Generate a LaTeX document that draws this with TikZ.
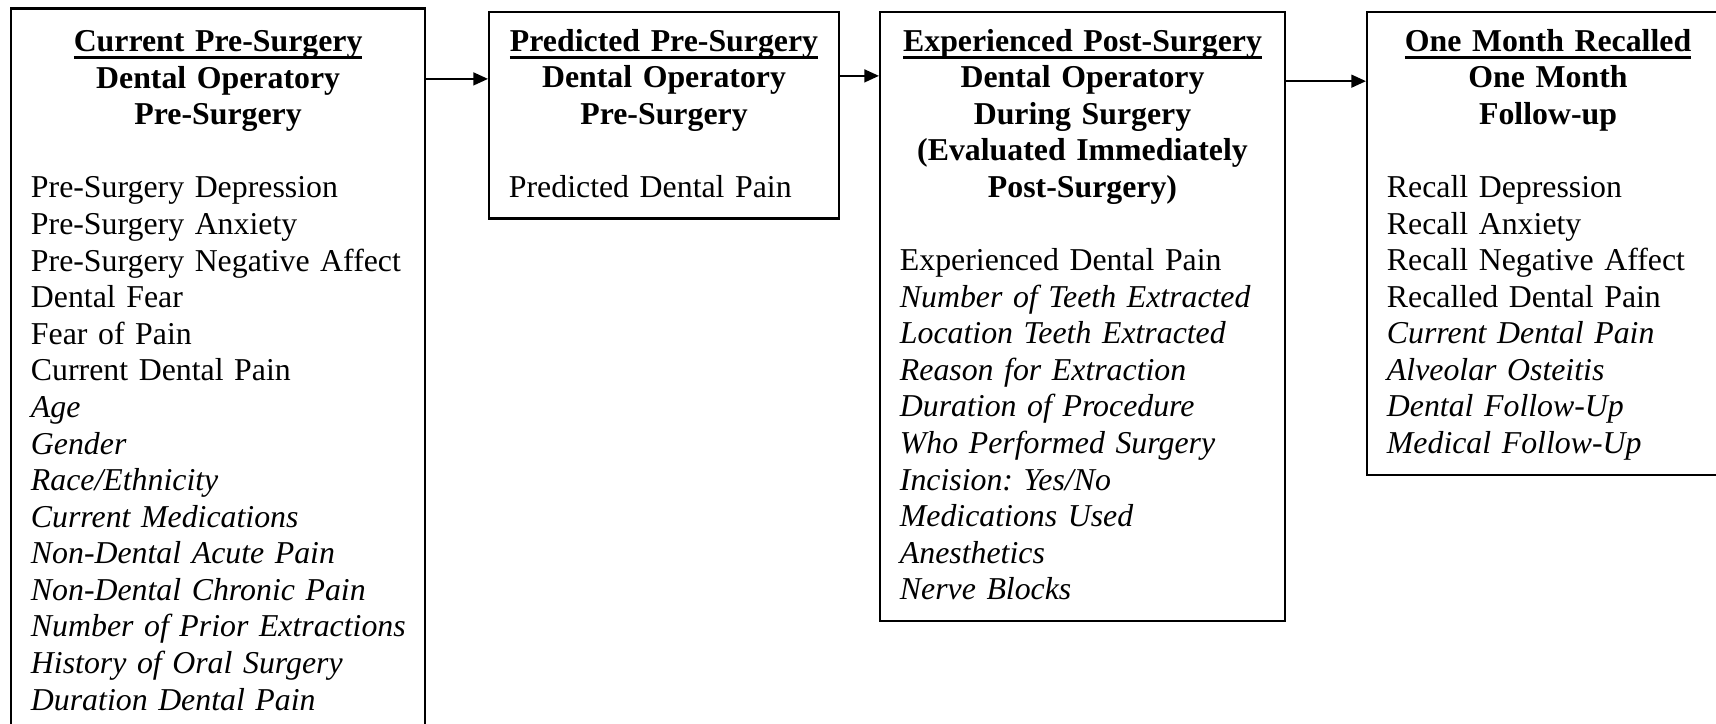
\documentclass[tikz,border=0pt]{standalone}
\usepackage{fontspec}
\setmainfont{Liberation Serif}
\usetikzlibrary{arrows.meta}
\setlength{\parindent}{0pt}
\frenchspacing

\newsavebox{\ttlbox}
\newcommand{\ttl}[1]{\sbox{\ttlbox}{#1}\rlap{\rule[-2.9pt]{\wd\ttlbox}{1.1pt}}\usebox{\ttlbox}}
\newcommand{\phasehead}[2]{{\centering\bfseries\rule{0pt}{10.9pt}\ttl{#1}\\#2\par}\vspace{13.8pt}}

\begin{document}
\begin{tikzpicture}[
  phase/.style={draw, line width=0.8pt, anchor=north west, align=left,
    inner xsep=7.5pt, inner ysep=3.8pt, font=\fontsize{12pt}{13.8pt}\selectfont},
  flow/.style={-{Triangle[length=5.5pt,width=4.8pt]}, line width=0.8pt}]
  \useasboundingbox (0,0) rectangle (22.744,9.596);

  % Current pre-surgery (runs off the bottom edge)
  \node[phase, text width=4.96cm, inner ysep=5.3pt] (cur) at (0.133,9.497) {%
    \phasehead{Current Pre-Surgery}{Dental Operatory\\Pre-Surgery}
    Pre-Surgery Depression\\
    Pre-Surgery Anxiety\\
    \mbox{Pre-Surgery Negative Affect}\\
    Dental Fear\\
    Fear of Pain\\
    Current Dental Pain\\
    \textit{Age}\\
    \textit{Gender}\\
    \textit{Race/Ethnicity}\\
    \textit{Current Medications}\\
    \textit{Non-Dental Acute Pain}\\
    \textit{Non-Dental Chronic Pain}\\
    \mbox{\textit{Number of Prior Extractions}}\\
    \textit{History of Oral Surgery}\\
    \textit{Duration Dental Pain}\strut};

  % Predicted pre-surgery
  \node[phase, text width=4.11cm] (pred) at (6.468,9.450) {%
    \phasehead{Predicted Pre-Surgery}{Dental Operatory\\Pre-Surgery}
    Predicted Dental Pain\strut};

  % Experienced post-surgery
  \node[phase, text width=4.84cm] (exp) at (11.650,9.450) {%
    \phasehead{Experienced Post-Surgery}{Dental Operatory\\During Surgery\\(Evaluated Immediately\\Post-Surgery)}
    Experienced Dental Pain\\
    \mbox{\textit{Number of Teeth Extracted}}\\
    \textit{Location Teeth Extracted}\\
    \textit{Reason for Extraction}\\
    \textit{Duration of Procedure}\\
    \textit{Who Performed Surgery}\\
    \textit{Incision: Yes/No}\\
    \textit{Medications Used}\\
    \textit{Anesthetics}\\
    \textit{Nerve Blocks}\strut};

  % One month recalled (runs off the right edge)
  \node[phase, text width=4.27cm] (rec) at (18.105,9.450) {%
    \phasehead{One Month Recalled}{One Month\\Follow-up}
    Recall Depression\\
    Recall Anxiety\\
    Recall Negative Affect\\
    Recalled Dental Pain\\
    \textit{Current Dental Pain}\\
    \textit{Alveolar Osteitis}\\
    \textit{Dental Follow-Up}\\
    \textit{Medical Follow-Up}\strut};

  % Arrows
  \draw[flow] (cur.east |- 0,8.55) -- (pred.west |- 0,8.55);
  \draw[flow] (pred.east |- 0,8.59) -- (exp.west |- 0,8.59);
  \draw[flow] (exp.east |- 0,8.52) -- (rec.west |- 0,8.52);
\end{tikzpicture}
\end{document}
